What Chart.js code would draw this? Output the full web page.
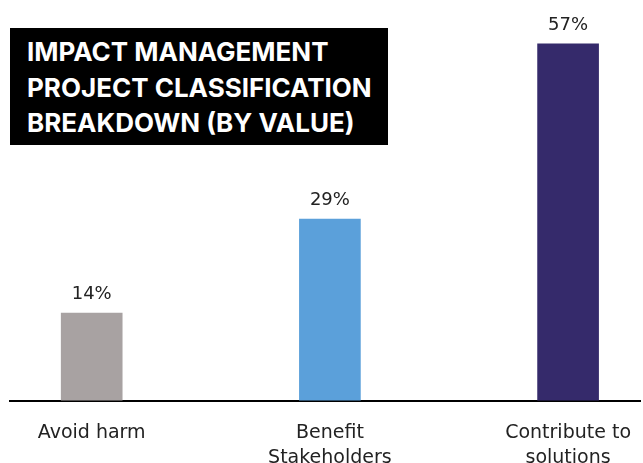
<!DOCTYPE html>
<html lang="en">

<head>
    <meta charset="UTF-8">
    <title>Impact management</title>
    <script src="https://cdn.jsdelivr.net/npm/chart.js@4.4.0/dist/chart.umd.min.js"></script>
    <style>
        body { margin: 0; background: #fff; overflow: hidden; }
        #wrap { position: relative; width: 643px; height: 463px; }
        #title {
            position: absolute; left: 10px; top: 28px; width: 378px; height: 117px;
            background: #000; color: #fff; font-family: Inter, sans-serif; font-weight: 700;
            font-size: 26px; line-height: 35.5px; padding: 6px 0 0 17px; box-sizing: border-box;
        }
    </style>
</head>

<body>
    <div id="wrap">
        <canvas id="barChart" width="643" height="463"></canvas>
        <div id="title">IMPACT MANAGEMENT<br>PROJECT CLASSIFICATION<br>BREAKDOWN (BY VALUE)</div>
    </div>

    <script>
        var categories = [['Avoid harm'], ['Benefit', 'Stakeholders'], ['Contribute to', 'solutions']];
        var values = [14, 29, 57];
        var colors = ['#a8a2a2', '#5ba0da', '#352a6b'];

        // percentage above each bar
        var valueLabels = {
            id: 'valueLabels',
            afterDatasetsDraw(chart) {
                var ctx = chart.ctx;
                ctx.save();
                ctx.font = '18px "DejaVu Sans", sans-serif';
                ctx.fillStyle = '#222';
                ctx.textAlign = 'center';
                ctx.textBaseline = 'alphabetic';
                chart.getDatasetMeta(0).data.forEach(function (bar, i) {
                    ctx.fillText(values[i] + '%', bar.x, bar.y - 14);
                });
                ctx.restore();
            }
        };

        var ctx = document.getElementById('barChart').getContext('2d');
        var barChart = new Chart(ctx, {
            type: 'bar',
            data: {
                datasets: [{
                    data: values.map(function (v, i) { return { x: i, y: v }; }),
                    backgroundColor: colors,
                    barThickness: 61
                }]
            },
            options: {
                responsive: false,
                animation: false,
                layout: { padding: { left: 10, top: 25, right: -3, bottom: -19 } },
                plugins: { legend: { display: false }, tooltip: { enabled: false } },
                scales: {
                    x: {
                        type: 'linear',
                        offset: false,
                        min: -0.343,
                        max: 2.305,
                        grid: { display: false },
                        border: { color: '#000', width: 2 },
                        ticks: {
                            stepSize: 1,
                            includeBounds: false,
                            maxRotation: 0,
                            autoSkip: false,
                            padding: 12,
                            color: '#222',
                            font: { family: '"DejaVu Sans", sans-serif', size: 19, lineHeight: 1.3 },
                            callback: function (v) {
                                return Number.isInteger(v) ? categories[v] : '';
                            }
                        }
                    },
                    y: { display: false, min: 0, max: 60 }
                }
            },
            plugins: [valueLabels]
        });
    </script>
</body>

</html>
